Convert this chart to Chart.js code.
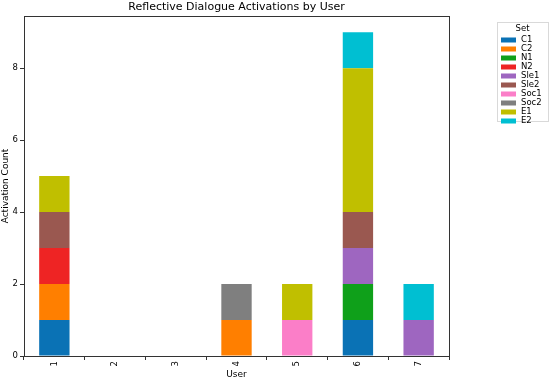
<!DOCTYPE html>
<html>
<head>
<meta charset="utf-8">
<script src="https://cdn.jsdelivr.net/npm/chart.js@4"></script>
<style>
  html, body { margin: 0; padding: 0; background: #fff; }
  #wrap { width: 550px; height: 380px; position: relative; }
</style>
</head>
<body>
<div id="wrap"><canvas id="chart"></canvas></div>
<script>
// Activation counts per user, one array per set
const users = ['1', '2', '3', '4', '5', '6', '7'];
const setNames = ['C1', 'C2', 'N1', 'N2', 'Sle1', 'Sle2', 'Soc1', 'Soc2', 'E1', 'E2'];
const c1   = [1, 0, 0, 0, 0, 1, 0];
const c2   = [1, 0, 0, 1, 0, 0, 0];
const n1   = [0, 0, 0, 0, 0, 1, 0];
const n2   = [1, 0, 0, 0, 0, 0, 0];
const sle1 = [0, 0, 0, 0, 0, 1, 1];
const sle2 = [1, 0, 0, 0, 0, 1, 0];
const soc1 = [0, 0, 0, 0, 1, 0, 0];
const soc2 = [0, 0, 0, 1, 0, 0, 0];
const e1   = [1, 0, 0, 0, 1, 4, 0];
const e2   = [0, 0, 0, 0, 0, 1, 1];
const yTicks = [0, 2, 4, 6, 8];

const seriesValues = [c1, c2, n1, n2, sle1, sle2, soc1, soc2, e1, e2];
const colors = ['#0a72b5', '#ff7f00', '#0fa01a', '#ee2424', '#9e66c0',
                '#9a5850', '#fb7ec8', '#7f7f7f', '#c0bf00', '#00bfd2'];

const FONT = 'DejaVu Sans';

// Title, top/right spines and outside legend
const decorPlugin = {
    id: 'decor',
    afterDraw(chart) {
        const ctx = chart.ctx;
        const a = chart.chartArea;
        ctx.save();
        ctx.strokeStyle = '#333';
        ctx.lineWidth = 1;
        ctx.strokeRect(a.left + 0.5, a.top + 0.5, a.right - a.left, a.bottom - a.top);

        ctx.fillStyle = '#000';
        ctx.font = '11px "' + FONT + '"';
        ctx.textAlign = 'center';
        ctx.textBaseline = 'bottom';
        ctx.fillText('Reflective Dialogue Activations by User', (a.left + a.right) / 2, a.top - 3);

        // legend box
        const lx = 497, ly = 22, lw = 51, lh = 99;
        ctx.fillStyle = 'rgba(255,255,255,0.8)';
        ctx.strokeStyle = '#d9d9d9';
        ctx.fillRect(lx, ly, lw, lh);
        ctx.strokeRect(lx + 0.5, ly + 0.5, lw, lh);
        ctx.fillStyle = '#000';
        ctx.font = '8.5px "' + FONT + '"';
        ctx.textBaseline = 'middle';
        ctx.fillText('Set', lx + lw / 2, ly + 7);
        ctx.textAlign = 'left';
        chart.data.datasets.forEach((ds, i) => {
            const y = ly + 18 + i * 9;
            ctx.fillStyle = ds.backgroundColor;
            ctx.fillRect(lx + 4, y - 2.5, 15, 5);
            ctx.fillStyle = '#000';
            ctx.fillText(ds.label, lx + 24, y);
        });
        ctx.restore();
    }
};

const datasets = setNames.map((name, i) => ({
    label: name,
    data: seriesValues[i],
    backgroundColor: colors[i],
    borderWidth: 0,
    barPercentage: 0.5,
    categoryPercentage: 1.0
}));

new Chart(document.getElementById('chart'), {
    type: 'bar',
    data: { labels: users, datasets: datasets },
    plugins: [decorPlugin],
    options: {
        responsive: true,
        maintainAspectRatio: false,
        animation: false,
        layout: { padding: { left: 0, right: 101, top: 16, bottom: 0 } },
        plugins: {
            legend: { display: false },
            title: { display: false },
            tooltip: { enabled: false }
        },
        scales: {
            x: {
                stacked: true,
                afterFit(scale) { scale.height = 24; },
                grid: { display: true, drawOnChartArea: false, drawTicks: true, tickLength: 4, color: '#333' },
                border: { display: true, color: '#333' },
                ticks: {
                    color: '#000', font: { family: FONT, size: 8.5 },
                    minRotation: 90, maxRotation: 90, padding: 1
                },
                title: {
                    display: true, text: 'User', color: '#000',
                    font: { family: FONT, size: 9 }, padding: { top: 0, bottom: 0 }
                }
            },
            y: {
                stacked: true,
                min: 0,
                max: 9.45,
                afterFit(scale) { scale.width = 24; },
                afterBuildTicks(scale) { scale.ticks = yTicks.map(v => ({ value: v })); },
                grid: { display: true, drawOnChartArea: false, drawTicks: true, tickLength: 4, color: '#333' },
                border: { display: true, color: '#333' },
                ticks: { color: '#000', font: { family: FONT, size: 8.5 }, padding: 2 },
                title: {
                    display: true, text: 'Activation Count', color: '#000',
                    font: { family: FONT, size: 9 }, padding: { top: 0, bottom: 0 }
                }
            }
        }
    }
});
</script>
</body>
</html>
